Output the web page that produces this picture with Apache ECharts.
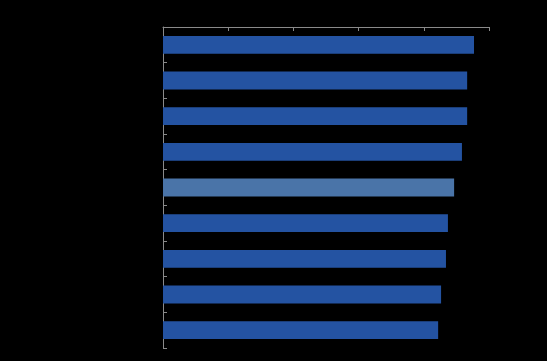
<!DOCTYPE html>
<html>
<head>
<meta charset="utf-8">
<script src="https://cdn.jsdelivr.net/npm/echarts@6/dist/echarts.min.js"></script>
<style>
html,body{margin:0;padding:0;background:#000;}
#c{width:547px;height:361px;}
</style>
</head>
<body>
<div id="c"></div>
<script>
var categories = ["1","2","3","4","5","6","7","8","9"];
var values = [95.4, 93.3, 93.3, 91.7, 89.3, 87.4, 86.8, 85.3, 84.4];
var highlightIndex = 4;
var xTicks = [0, 20, 40, 60, 80, 100];

var chart = echarts.init(document.getElementById('c'), null, {renderer: 'canvas'});
chart.setOption({
  backgroundColor: '#000000',
  animation: false,
  grid: {left: 163, right: 58, top: 27, bottom: 13, containLabel: false},
  xAxis: {
    type: 'value', position: 'top',
    min: xTicks[0], max: xTicks[xTicks.length - 1], interval: 20,
    axisLine: {show: true, lineStyle: {color: '#8a8a8a', width: 1}},
    axisTick: {show: true, inside: true, length: 4, lineStyle: {color: '#8a8a8a'}},
    axisLabel: {show: false},
    splitLine: {show: false}
  },
  yAxis: {
    type: 'category', data: categories, inverse: true,
    axisLine: {show: true, lineStyle: {color: '#8a8a8a', width: 1}},
    axisTick: {show: true, inside: true, length: 4, lineStyle: {color: '#8a8a8a'}},
    axisLabel: {show: false},
    splitLine: {show: false}
  },
  series: [{
    type: 'bar',
    barWidth: '50%',
    data: values.map(function (v, i) {
      return {value: v, itemStyle: {color: i === highlightIndex ? '#4a74a8' : '#2453a2'}};
    })
  }]
});
</script>
</body>
</html>
